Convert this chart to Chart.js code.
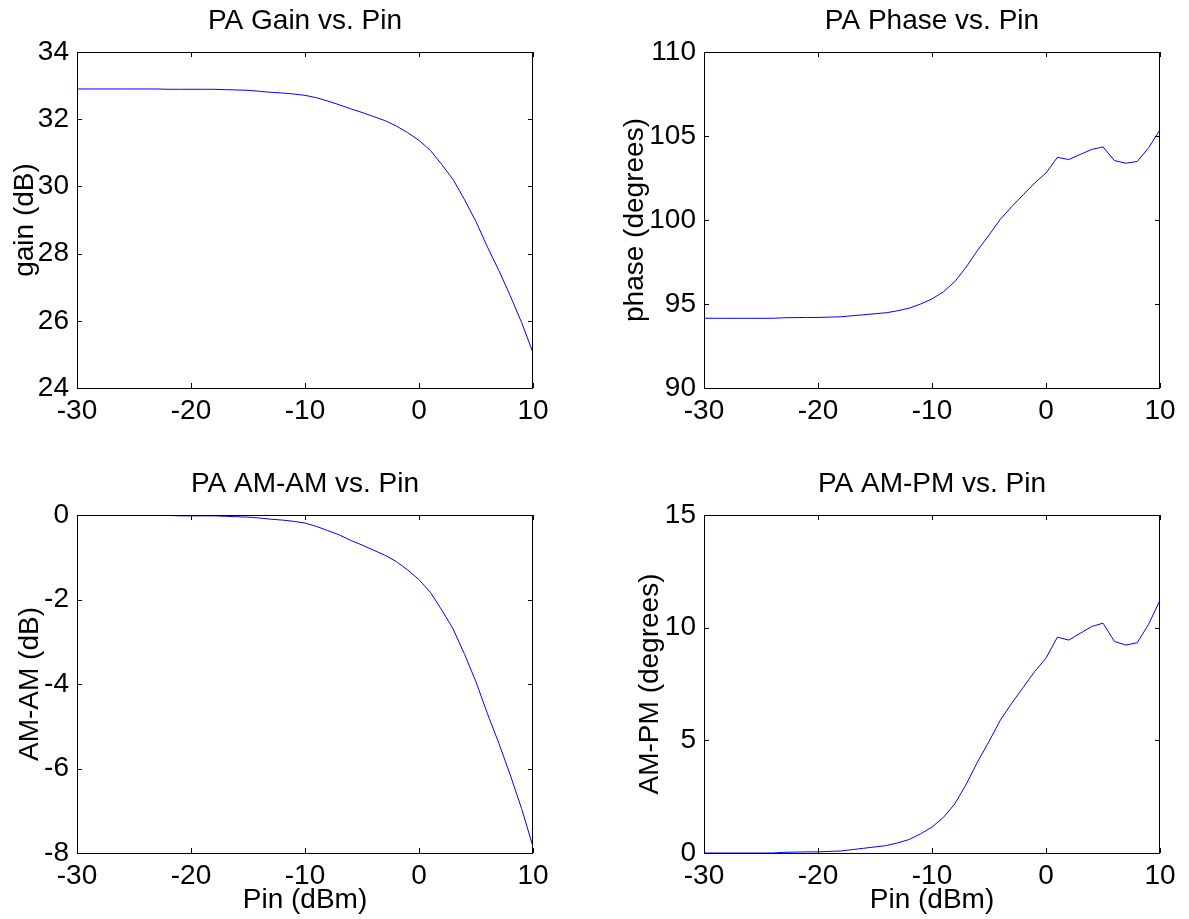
<!DOCTYPE html>
<html>
<head>
<meta charset="utf-8">
<script src="https://cdn.jsdelivr.net/npm/chart.js@4.4.1/dist/chart.umd.min.js"></script>
<style>
  body { margin: 0; background: #fff; }
  #wrap { position: relative; width: 1189px; height: 919px; overflow: hidden; }
  canvas { position: absolute; }
</style>
</head>
<body>
<div id="wrap">
  <canvas id="gainChart" width="594" height="460" style="left:0;top:0"></canvas>
  <canvas id="phaseChart" width="595" height="460" style="left:594px;top:0"></canvas>
  <canvas id="amamChart" width="594" height="459" style="left:0;top:460px"></canvas>
  <canvas id="ampmChart" width="595" height="459" style="left:594px;top:460px"></canvas>
</div>
<script>
// input power sweep (dBm)
const pin = [-30, -29, -28, -27, -26, -25, -24, -23, -22, -21, -20, -19, -18, -17, -16, -15,
  -14, -13, -12, -11, -10, -9, -8, -7, -6, -5, -4, -3, -2, -1, 0, 1, 2, 3, 4, 5, 6, 7, 8, 9, 10];

const gain = [32.9, 32.9, 32.9, 32.9, 32.9, 32.9, 32.9, 32.9, 32.89, 32.89, 32.89, 32.89, 32.89,
  32.88, 32.87, 32.86, 32.83, 32.8, 32.78, 32.75, 32.71, 32.64, 32.54, 32.43, 32.31, 32.2, 32.08,
  31.96, 31.8, 31.6, 31.37, 31.07, 30.65, 30.2, 29.6, 28.95, 28.2, 27.5, 26.75, 25.95, 25.05];

const phase = [94.15, 94.15, 94.15, 94.15, 94.15, 94.15, 94.15, 94.18, 94.19, 94.2, 94.2, 94.22,
  94.24, 94.3, 94.36, 94.42, 94.48, 94.6, 94.75, 95.0, 95.3, 95.73, 96.33, 97.2, 98.2, 99.1, 100.05,
  100.8, 101.5, 102.2, 102.8, 103.73, 103.6, 103.9, 104.2, 104.35, 103.54, 103.38, 103.48, 104.3, 105.37];

const amam = [0, 0, 0, 0, 0, 0, 0, 0, -0.01, -0.02, -0.02, -0.02, -0.02, -0.03, -0.04, -0.05,
  -0.07, -0.1, -0.12, -0.15, -0.19, -0.27, -0.37, -0.47, -0.6, -0.71, -0.83, -0.95, -1.1, -1.3,
  -1.53, -1.83, -2.25, -2.7, -3.3, -3.95, -4.7, -5.4, -6.15, -6.95, -7.85];

const ampm = [0, 0, 0, 0, 0, 0, 0, 0.03, 0.04, 0.05, 0.05, 0.07, 0.09, 0.15, 0.21, 0.27, 0.33,
  0.45, 0.6, 0.85, 1.15, 1.58, 2.18, 3.05, 4.05, 4.95, 5.9, 6.65, 7.35, 8.05, 8.65, 9.58, 9.45,
  9.75, 10.05, 10.2, 9.39, 9.23, 9.33, 10.15, 11.22];

const FONT = "'Liberation Sans', Arial, Helvetica, sans-serif";
Chart.defaults.color = '#000';
Chart.defaults.font.family = FONT;

// matlab style box with inward ticks on all sides
const boxTicks = {
  id: 'boxTicks',
  afterDraw(chart) {
    const { ctx, chartArea: a, scales: { x, y } } = chart;
    const len = 5;
    ctx.save();
    ctx.strokeStyle = '#000';
    ctx.lineWidth = 1;
    ctx.beginPath();
    x.ticks.forEach(t => {
      const px = Math.round(x.getPixelForValue(t.value)) + 0.5;
      ctx.moveTo(px, a.bottom); ctx.lineTo(px, a.bottom - len);
      ctx.moveTo(px, a.top); ctx.lineTo(px, a.top + len);
    });
    y.ticks.forEach(t => {
      const py = Math.round(y.getPixelForValue(t.value)) + 0.5;
      ctx.moveTo(a.left, py); ctx.lineTo(a.left + len, py);
      ctx.moveTo(a.right, py); ctx.lineTo(a.right - len, py);
    });
    ctx.stroke();
    ctx.strokeRect(Math.round(a.left) + 0.5, Math.round(a.top) + 0.5,
      Math.round(a.width) - 1, Math.round(a.height));
    ctx.restore();
  }
};

function makeChart(id, values, o) {
  const ctx = document.getElementById(id).getContext('2d');
  return new Chart(ctx, {
    type: 'line',
    data: {
      datasets: [{
        data: pin.map((p, i) => ({ x: p, y: values[i] })),
        borderColor: '#0000ff',
        borderWidth: 1,
        pointRadius: 0,
        tension: 0,
        fill: false
      }]
    },
    options: {
      responsive: false,
      animation: false,
      layout: { padding: { left: 0, right: o.padRight, top: 0, bottom: 0 } },
      plugins: {
        legend: { display: false },
        tooltip: { enabled: false },
        title: {
          display: true,
          text: o.title,
          fullSize: false,
          font: { size: 28, weight: 'normal', family: FONT },
          padding: { top: o.titleTop, bottom: o.titleBottom }
        }
      },
      scales: {
        x: {
          type: 'linear',
          min: -30, max: 10,
          grid: { display: false, drawTicks: false },
          border: { display: false },
          ticks: { stepSize: 10, padding: 6, font: { size: 28 } },
          title: {
            display: !!o.xLabel,
            text: o.xLabel || '',
            font: { size: 28 },
            padding: { top: 0, bottom: 2.4 }
          },
          afterFit: s => { s.height = o.xHeight; }
        },
        y: {
          min: o.yMin, max: o.yMax,
          grid: { display: false, drawTicks: false },
          border: { display: false },
          ticks: { stepSize: o.yStep, padding: 8, font: { size: 28 } },
          title: {
            display: true,
            text: o.yLabel,
            font: { size: 28 },
            padding: { top: o.yTitlePad, bottom: 0 }
          },
          afterFit: s => { s.width = o.yWidth; }
        }
      }
    },
    plugins: [boxTicks]
  });
}

makeChart('gainChart', gain, {
  title: 'PA Gain vs. Pin', yLabel: 'gain (dB)',
  yMin: 24, yMax: 34, yStep: 2,
  yWidth: 77, padRight: 61, xHeight: 72,
  titleTop: 4, titleBottom: 14.4, yTitlePad: 8.4
});
makeChart('phaseChart', phase, {
  title: 'PA Phase vs. Pin', yLabel: 'phase (degrees)',
  yMin: 90, yMax: 110, yStep: 5,
  yWidth: 110, padRight: 29, xHeight: 72,
  titleTop: 4, titleBottom: 14.4, yTitlePad: 24.4
});
makeChart('amamChart', amam, {
  title: 'PA AM-AM vs. Pin', yLabel: 'AM-AM (dB)', xLabel: 'Pin (dBm)',
  yMin: -8, yMax: 0, yStep: 2,
  yWidth: 77, padRight: 61, xHeight: 66,
  titleTop: 7, titleBottom: 14.4, yTitlePad: 13.4
});
makeChart('ampmChart', ampm, {
  title: 'PA AM-PM vs. Pin', yLabel: 'AM-PM (degrees)', xLabel: 'Pin (dBm)',
  yMin: 0, yMax: 15, yStep: 5,
  yWidth: 110, padRight: 29, xHeight: 66,
  titleTop: 7, titleBottom: 14.4, yTitlePad: 39.4
});
</script>
</body>
</html>
